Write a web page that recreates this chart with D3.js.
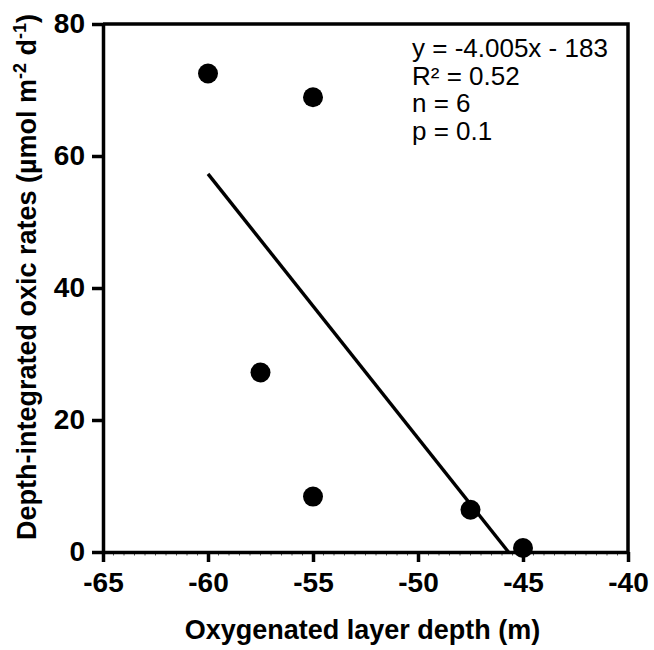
<!DOCTYPE html>
<html>
<head>
<meta charset="utf-8">
<script src="https://cdn.jsdelivr.net/npm/d3@7"></script>
<style>
  body { margin: 0; background: #fff; }
  svg { display: block; }
  text { font-family: "Liberation Sans", Arial, sans-serif; fill: #000; }
</style>
</head>
<body>
<div class="board"></div>
<script>
// DATA
var depth = [-60, -55, -57.5, -55, -47.5, -45];
var rates = [72.5, 68.9, 27.2, 8.4, 6.4, 0.6];
var xTicks = [-65, -60, -55, -50, -45, -40];
var yTicks = [0, 20, 40, 60, 80];
var fitSlope = -4.005, fitIntercept = -183;
var statsLines = ['y = -4.005x - 183', 'R\u00b2 = 0.52', 'n = 6', 'p = 0.1'];

// BOARD
var width = 654, height = 650;
var plotLeft = 103, plotRight = 628, plotTop = 24, plotBottom = 552;

var svg = d3.select('.board').append('svg')
  .attr('width', width)
  .attr('height', height);

var x = d3.scaleLinear().domain([-65, -40]).range([plotLeft, plotRight]);
var y = d3.scaleLinear().domain([0, 80]).range([plotBottom, plotTop]);

// frame top + right
svg.append('path')
  .attr('d', 'M' + plotLeft + ',' + plotTop + 'H' + plotRight + 'V' + plotBottom)
  .attr('fill', 'none').attr('stroke', '#000').attr('stroke-width', 3.5);

// minor x ticks
var minor = d3.range(-65, -39.9, 0.5);
svg.append('g').selectAll('line').data(minor).enter().append('line')
  .attr('x1', function (d) { return x(d); }).attr('x2', function (d) { return x(d); })
  .attr('y1', plotBottom).attr('y2', plotBottom + 3.5)
  .attr('stroke', '#555').attr('stroke-width', 1);

var fmt = function (d) { return String(d); };  // plain hyphen minus like the original

// x axis
var xAxis = svg.append('g')
  .attr('transform', 'translate(0,' + plotBottom + ')')
  .call(d3.axisBottom(x).tickValues(xTicks).tickFormat(fmt).tickSize(10).tickPadding(10).tickSizeOuter(0));
xAxis.select('.domain').attr('stroke-width', 3.5);
xAxis.selectAll('.tick line').attr('stroke-width', 3.5);
xAxis.selectAll('text').attr('font-size', 28).attr('font-weight', 'bold')
  .attr('font-family', '"Liberation Sans", Arial, sans-serif');

// y axis
var yAxis = svg.append('g')
  .attr('transform', 'translate(' + plotLeft + ',0)')
  .call(d3.axisLeft(y).tickValues(yTicks).tickFormat(fmt).tickSize(11).tickPadding(7).tickSizeOuter(0));
yAxis.select('.domain').attr('stroke-width', 3.5);
yAxis.selectAll('.tick line').attr('stroke-width', 3.5);
yAxis.selectAll('text').attr('font-size', 28).attr('font-weight', 'bold')
  .attr('font-family', '"Liberation Sans", Arial, sans-serif');

// regression line from x = -60 to the x intercept
var x0 = d3.min(depth), x1 = -fitIntercept / fitSlope;
svg.append('line')
  .attr('x1', x(x0)).attr('y1', y(fitSlope * x0 + fitIntercept))
  .attr('x2', x(x1)).attr('y2', y(fitSlope * x1 + fitIntercept))
  .attr('stroke', '#000').attr('stroke-width', 3.4);

// points
svg.append('g').selectAll('circle').data(depth).enter().append('circle')
  .attr('cx', function (d) { return x(d); })
  .attr('cy', function (d, i) { return y(rates[i]); })
  .attr('r', 10)
  .attr('fill', '#000');

// stats text
svg.append('g').selectAll('text').data(statsLines).enter().append('text')
  .attr('x', 412)
  .attr('y', function (d, i) { return 57 + i * 27.5; })
  .attr('font-size', 26)
  .text(function (d) { return d; });

// axis titles
svg.append('text')
  .attr('x', (plotLeft + plotRight) / 2 - 3).attr('y', 639)
  .attr('text-anchor', 'middle')
  .attr('font-size', 27).attr('font-weight', 'bold')
  .text('Oxygenated layer depth (m)');

var yt = svg.append('text')
  .attr('transform', 'translate(36,' + 277 + ') rotate(-90)')
  .attr('text-anchor', 'middle')
  .attr('font-size', 27).attr('font-weight', 'bold');
yt.append('tspan').text('Depth-integrated oxic rates (\u00b5mol m');
yt.append('tspan').attr('dy', -10).attr('font-size', 18).text('-2');
yt.append('tspan').attr('dy', 10).text(' d');
yt.append('tspan').attr('dy', -10).attr('font-size', 18).text('-1');
yt.append('tspan').attr('dy', 10).text(')');
</script>
</body>
</html>
